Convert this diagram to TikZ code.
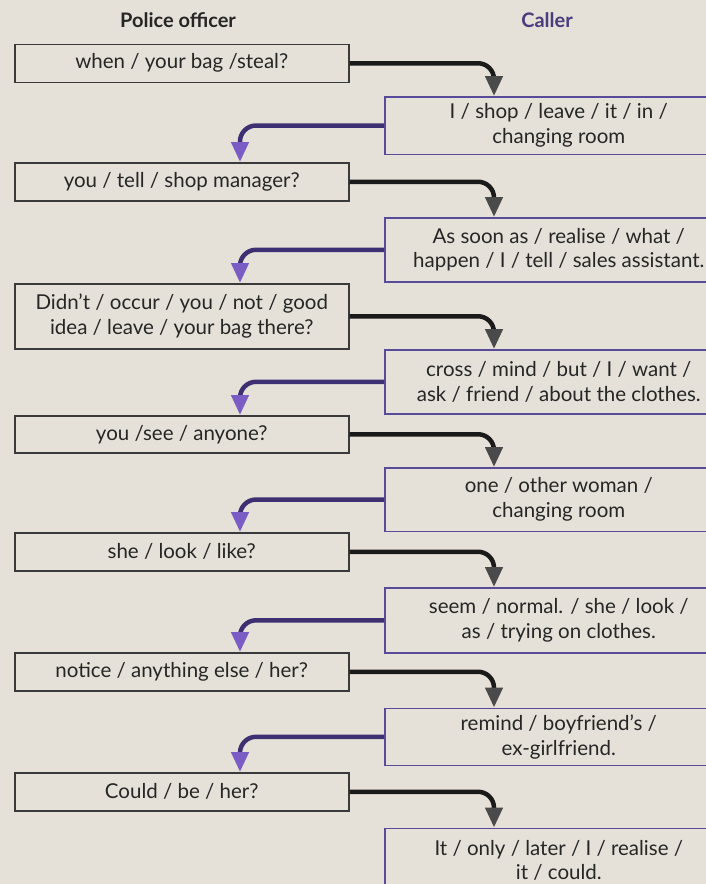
\documentclass[tikz,border=0pt]{standalone}
\usepackage{fontspec}
\setmainfont{Lato}
\usetikzlibrary{arrows.meta}
\definecolor{bg}{HTML}{E5E1D8}
\definecolor{callerpurple}{HTML}{4B3C7E}
\definecolor{rboxborder}{HTML}{5A4A9A}
\definecolor{plinecol}{HTML}{3D2F72}
\definecolor{pheadcol}{HTML}{7A5CC4}
\definecolor{blinecol}{HTML}{1A1A1A}
\definecolor{bheadcol}{HTML}{4A4A4A}
\definecolor{lboxborder}{HTML}{3A3A3A}
\tikzset{
  lbox/.style={draw=lboxborder, line width=1.5pt, anchor=north west, minimum width=334pt, align=center, inner sep=0pt, font=\fontsize{20.5}{24.5}\selectfont, text=black!85},
  rbox/.style={draw=rboxborder, line width=1.6pt, anchor=north west, minimum width=348pt, align=center, inner sep=0pt, font=\fontsize{20.5}{24.5}\selectfont, text=black!85},
  header/.style={font=\fontsize{20}{24}\selectfont\bfseries},
  blackarrow/.style={draw=blinecol, line width=4.5pt, rounded corners=16pt, -{Triangle[width=17pt,length=20pt,color=bheadcol]}},
  purplearrow/.style={draw=plinecol, line width=4.5pt, rounded corners=16pt, -{Triangle[width=17pt,length=20pt,color=pheadcol]}}
}
\begin{document}
\begin{tikzpicture}[x=1pt,y=-1pt]
\fill[bg] (0,0) rectangle (706,884);
\clip (0,0) rectangle (706,884);
\useasboundingbox (0,0) rectangle (706,884);

\node[header, text=black!85] (hpo) at (178,20) {Police officer};
\node[header, text=callerpurple] (hca) at (547,20) {Caller};

% left boxes
\node[lbox, minimum height=38pt] (L1) at (14,43.5) {when / your bag /steal?};
\node[lbox, minimum height=38pt] (L2) at (14,162) {you / tell / shop manager?};
\node[lbox, minimum height=65pt] (L3) at (14,283) {Didn't / occur / you / not / good\\idea / leave / your bag there?};
\node[lbox, minimum height=37pt] (L4) at (14,415) {you /see / anyone?};
\node[lbox, minimum height=38pt] (L5) at (14,532) {she / look / like?};
\node[lbox, minimum height=38pt] (L6) at (14,652) {notice / anything else / her?};
\node[lbox, minimum height=38pt] (L7) at (14,772) {Could / be / her?};

% right boxes
\node[rbox, minimum height=57.5pt] (R1) at (384,96) {I / shop / leave / it / in /\\changing room};
\node[rbox, minimum height=64pt] (R2) at (384,217) {As soon as / realise / what /\\happen / I / tell / sales assistant.};
\node[rbox, minimum height=64pt] (R3) at (384,349) {cross / mind / but / I / want /\\ask / friend / about the clothes.};
\node[rbox, minimum height=63.5pt] (R4) at (384,467) {one / other woman /\\changing room};
\node[rbox, minimum height=65pt] (R5) at (384,587) {seem / normal. / she / look /\\as / trying on clothes.};
\node[rbox, minimum height=57pt] (R6) at (384,707.5) {remind / boyfriend's /\\ex-girlfriend.};
\node[rbox, minimum height=64pt] (R7) at (384,827.5) {It / only / later / I / realise /\\it / could.};

% connectors
\foreach \i in {1,...,7}{
  \draw[blackarrow] (L\i.east) -| ([xshift=110pt]R\i.north west);
}
\foreach \i/\j in {1/2,2/3,3/4,4/5,5/6,6/7}{
  \draw[purplearrow] (R\i.west) -| ([xshift=226pt]L\j.north west);
}
\end{tikzpicture}
\end{document}
